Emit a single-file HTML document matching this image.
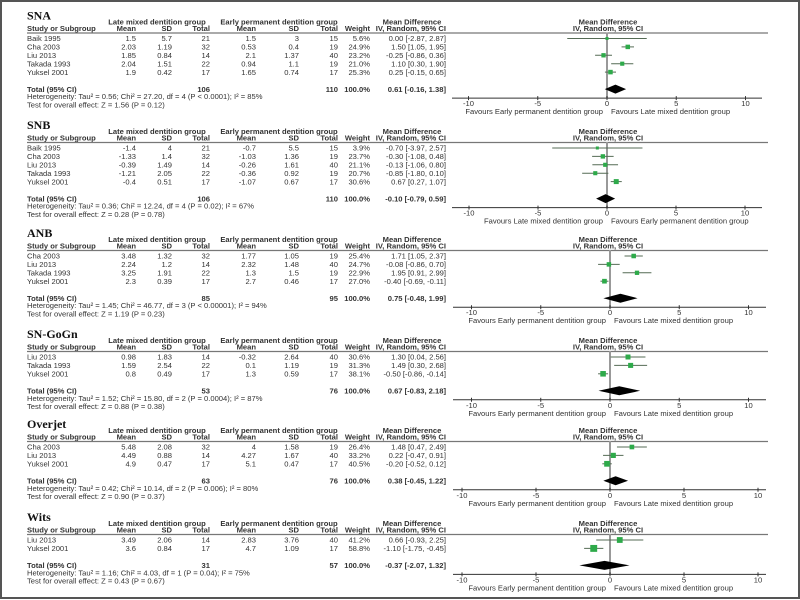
<!DOCTYPE html>
<html><head><meta charset="utf-8"><style>
html,body{margin:0;padding:0;background:#fff}
svg{display:block}
text{font-family:"Liberation Sans",sans-serif;font-size:7.6px;fill:#333}
.b{font-weight:bold}
.t{font-family:"Liberation Serif",serif;font-size:12px;font-weight:bold;fill:#111}
</style></head><body>
<svg id="fig" width="800" height="600" viewBox="0 0 800 600" xmlns="http://www.w3.org/2000/svg">
<rect x="1" y="1" width="798" height="597" fill="#fff" stroke="#555" stroke-width="2"/>
</svg>
<script>
const snaStudies=["Baik 1995","Cha 2003","Liu 2013","Takada 1993","Yuksel 2001"];
const snaE=[["1.5","5.7","21"],["2.03","1.19","32"],["1.85","0.84","14"],["2.04","1.51","22"],["1.9","0.42","17"]];
const snaC=[["1.5","3","15"],["0.53","0.4","19"],["2.1","1.37","40"],["0.94","1.1","19"],["1.65","0.74","17"]];
const snaW=[5.6,24.9,23.2,21.0,25.3];
const snaMD=[0.00,1.50,-0.25,1.10,0.25];
const snaLo=[-2.87,1.05,-0.86,0.30,-0.15];
const snaHi=[2.87,1.95,0.36,1.90,0.65];
const snaTot=[0.61,-0.16,1.38];

const snbStudies=["Baik 1995","Cha 2003","Liu 2013","Takada 1993","Yuksel 2001"];
const snbE=[["-1.4","4","21"],["-1.33","1.4","32"],["-0.39","1.49","14"],["-1.21","2.05","22"],["-0.4","0.51","17"]];
const snbC=[["-0.7","5.5","15"],["-1.03","1.36","19"],["-0.26","1.61","40"],["-0.36","0.92","19"],["-1.07","0.67","17"]];
const snbW=[3.9,23.7,21.1,20.7,30.6];
const snbMD=[-0.70,-0.30,-0.13,-0.85,0.67];
const snbLo=[-3.97,-1.08,-1.06,-1.80,0.27];
const snbHi=[2.57,0.48,0.80,0.10,1.07];
const snbTot=[-0.10,-0.79,0.59];

const anbStudies=["Cha 2003","Liu 2013","Takada 1993","Yuksel 2001"];
const anbE=[["3.48","1.32","32"],["2.24","1.2","14"],["3.25","1.91","22"],["2.3","0.39","17"]];
const anbC=[["1.77","1.05","19"],["2.32","1.48","40"],["1.3","1.5","19"],["2.7","0.46","17"]];
const anbW=[25.4,24.7,22.9,27.0];
const anbMD=[1.71,-0.08,1.95,-0.40];
const anbLo=[1.05,-0.86,0.91,-0.69];
const anbHi=[2.37,0.70,2.99,-0.11];
const anbTot=[0.75,-0.48,1.99];

const sngStudies=["Liu 2013","Takada 1993","Yuksel 2001"];
const sngE=[["0.98","1.83","14"],["1.59","2.54","22"],["0.8","0.49","17"]];
const sngC=[["-0.32","2.64","40"],["0.1","1.19","19"],["1.3","0.59","17"]];
const sngW=[30.6,31.3,38.1];
const sngMD=[1.30,1.49,-0.50];
const sngLo=[0.04,0.30,-0.86];
const sngHi=[2.56,2.68,-0.14];
const sngTot=[0.67,-0.83,2.18];

const ojStudies=["Cha 2003","Liu 2013","Yuksel 2001"];
const ojE=[["5.48","2.08","32"],["4.49","0.88","14"],["4.9","0.47","17"]];
const ojC=[["4","1.58","19"],["4.27","1.67","40"],["5.1","0.47","17"]];
const ojW=[26.4,33.2,40.5];
const ojMD=[1.48,0.22,-0.20];
const ojLo=[0.47,-0.47,-0.52];
const ojHi=[2.49,0.91,0.12];
const ojTot=[0.38,-0.45,1.22];

const witsStudies=["Liu 2013","Yuksel 2001"];
const witsE=[["3.49","2.06","14"],["3.6","0.84","17"]];
const witsC=[["2.83","3.76","40"],["4.7","1.09","17"]];
const witsW=[41.2,58.8];
const witsMD=[0.66,-1.10];
const witsLo=[-0.93,-1.75];
const witsHi=[2.25,-0.45];
const witsTot=[-0.37,-2.07,1.32];

const axisTicks=[-10,-5,0,5,10];

const panels=[
 {name:"SNA",key:"sna",line:32.5,n:[106,110],het:"Heterogeneity: Tau² = 0.56; Chi² = 27.20, df = 4 (P < 0.0001); I² = 85%",z:"Test for overall effect: Z = 1.56 (P = 0.12)",x0:607,xs:13.85,axL:452,axR:762,fav:["Favours Early permanent dentition group","Favours Late mixed dentition group"],S:snaStudies,E:snaE,C:snaC,W:snaW,M:snaMD,L:snaLo,H:snaHi,T:snaTot},
 {name:"SNB",key:"snb",line:142,n:[106,110],het:"Heterogeneity: Tau² = 0.36; Chi² = 12.24, df = 4 (P = 0.02); I² = 67%",z:"Test for overall effect: Z = 0.28 (P = 0.78)",x0:607,xs:13.8,axL:452,axR:762,fav:["Favours Late mixed dentition group","Favours Early permanent dentition group"],S:snbStudies,E:snbE,C:snbC,W:snbW,M:snbMD,L:snbLo,H:snbHi,T:snbTot},
 {name:"ANB",key:"anb",line:250,n:[85,95],het:"Heterogeneity: Tau² = 1.45; Chi² = 46.77, df = 3 (P < 0.00001); I² = 94%",z:"Test for overall effect: Z = 1.19 (P = 0.23)",x0:610,xs:13.85,axL:453,axR:766,fav:["Favours Early permanent dentition group","Favours Late mixed dentition group"],S:anbStudies,E:anbE,C:anbC,W:anbW,M:anbMD,L:anbLo,H:anbHi,T:anbTot},
 {name:"SN-GoGn",key:"sngogn",line:351,n:[53,76],het:"Heterogeneity: Tau² = 1.52; Chi² = 15.80, df = 2 (P = 0.0004); I² = 87%",z:"Test for overall effect: Z = 0.88 (P = 0.38)",x0:610,xs:13.85,axL:453,axR:766,fav:["Favours Early permanent dentition group","Favours Late mixed dentition group"],S:sngStudies,E:sngE,C:sngC,W:sngW,M:sngMD,L:sngLo,H:sngHi,T:sngTot},
 {name:"Overjet",key:"overjet",line:441,n:[63,76],het:"Heterogeneity: Tau² = 0.42; Chi² = 10.14, df = 2 (P = 0.006); I² = 80%",z:"Test for overall effect: Z = 0.90 (P = 0.37)",x0:610,xs:14.8,axL:453,axR:766,fav:["Favours Early permanent dentition group","Favours Late mixed dentition group"],S:ojStudies,E:ojE,C:ojC,W:ojW,M:ojMD,L:ojLo,H:ojHi,T:ojTot},
 {name:"Wits",key:"wits",line:534,n:[31,57],het:"Heterogeneity: Tau² = 1.16; Chi² = 4.03, df = 1 (P = 0.04); I² = 75%",z:"Test for overall effect: Z = 0.43 (P = 0.67)",x0:610,xs:14.8,axL:453,axR:766,fav:["Favours Early permanent dentition group","Favours Late mixed dentition group"],S:witsStudies,E:witsE,C:witsC,W:witsW,M:witsMD,L:witsLo,H:witsHi,T:witsTot}
];

const svg=document.getElementById('fig');
const NS="http://www.w3.org/2000/svg";
function mk(tag,attrs,parent){const e=document.createElementNS(NS,tag);for(const k in attrs)e.setAttribute(k,attrs[k]);(parent||svg).appendChild(e);return e;}
function txt(s,x,y,anchor,cls,parent){const e=mk('text',{x:x,y:y,'text-anchor':anchor||'start'},parent);if(cls)e.setAttribute('class',cls);e.textContent=s;return e;}
const cols=[136,172,210,256,299,338,370,446];

panels.forEach(p=>{
 const g=mk('g',{});
 
 
 const L=p.line, X=v=>p.x0+v*p.xs;
 const tt=txt(p.name,27,L-13,'start','t',g);
 
 
 txt("Late mixed dentition group",157,L-8,'middle','b',g);
 txt("Early permanent dentition group",279,L-8,'middle','b',g);
 txt("Mean Difference",412,L-8,'middle','b',g);
 txt("Mean Difference",608,L-8,'middle','b',g);
 const hd=["Mean","SD","Total","Mean","SD","Total","Weight","IV, Random, 95% CI"];
 txt("Study or Subgroup",27,L-1.5,'start','b',g);
 hd.forEach((h,i)=>txt(h,cols[i],L-1.5,'end','b',g));
 txt("IV, Random, 95% CI",608,L-1.5,'middle','b',g);
 mk('line',{x1:27,x2:768,y1:L+0.5,y2:L+0.5,stroke:'#777','stroke-width':1.2},g);
 const rows=p.S.length, step=8.4;
 const tY=L+6+(rows-1)*step+17;
 const axY=tY+9;
 mk('line',{x1:X(0),x2:X(0),y1:L,y2:axY,stroke:'#999','stroke-width':2},g);
 p.S.forEach((s,i)=>{
  const y=L+6+i*step, ty=y+2.7;
  const r=mk('g',{},g);
  
  
  txt(s,27,ty,'start','',r);
  p.E[i].forEach((v,j)=>txt(v,cols[j],ty,'end','',r));
  p.C[i].forEach((v,j)=>txt(v,cols[3+j],ty,'end','',r));
  txt(p.W[i].toFixed(1)+"%",cols[6],ty,'end','',r);
  txt(p.M[i].toFixed(2)+" ["+p.L[i].toFixed(2)+", "+p.H[i].toFixed(2)+"]",cols[7],ty,'end','',r);
  const ci=mk('line',{x1:X(p.L[i]),x2:X(p.H[i]),y1:y,y2:y,stroke:'#556b55','stroke-width':1},g);
  
  
  const sz=Math.max(3,Math.sqrt(p.W[i])*0.9);
  const sq=mk('rect',{x:X(p.M[i])-sz/2,y:y-sz/2,width:sz,height:sz,fill:'#2eaa4a'},g);
  
  
 });
 const ty=tY+2.7;
 txt("Total (95% CI)",27,ty,'start','b',g);
 txt(String(p.n[0]),cols[2],ty,'end','b',g);
 txt(String(p.n[1]),cols[5],ty,'end','b',g);
 txt("100.0%",cols[6],ty,'end','b',g);
 txt(p.T[0].toFixed(2)+" ["+p.T[1].toFixed(2)+", "+p.T[2].toFixed(2)+"]",cols[7],ty,'end','b',g);
 const d=mk('polygon',{points:`${X(p.T[1])},${tY} ${X(p.T[0])},${tY-4.5} ${X(p.T[2])},${tY} ${X(p.T[0])},${tY+4.5}`,fill:'#000'},g);
 
 
 txt(p.het,27,tY+10,'start','',g);
 txt(p.z,27,tY+18.3,'start','',g);
 const ax=mk('line',{x1:p.axL,x2:p.axR,y1:axY,y2:axY,stroke:'#333','stroke-width':1},g);
 
 
 axisTicks.forEach(t=>{
  mk('line',{x1:X(t),x2:X(t),y1:axY-2,y2:axY+2,stroke:'#333','stroke-width':1},g);
  txt(String(t),X(t),axY+8,'middle','',g);
 });
 const f1=txt(p.fav[0],X(0)-4,axY+16,'end','',g);
 
 
 const f2=txt(p.fav[1],X(0)+4,axY+16,'start','',g);
 
 
});
</script>
</body></html>
